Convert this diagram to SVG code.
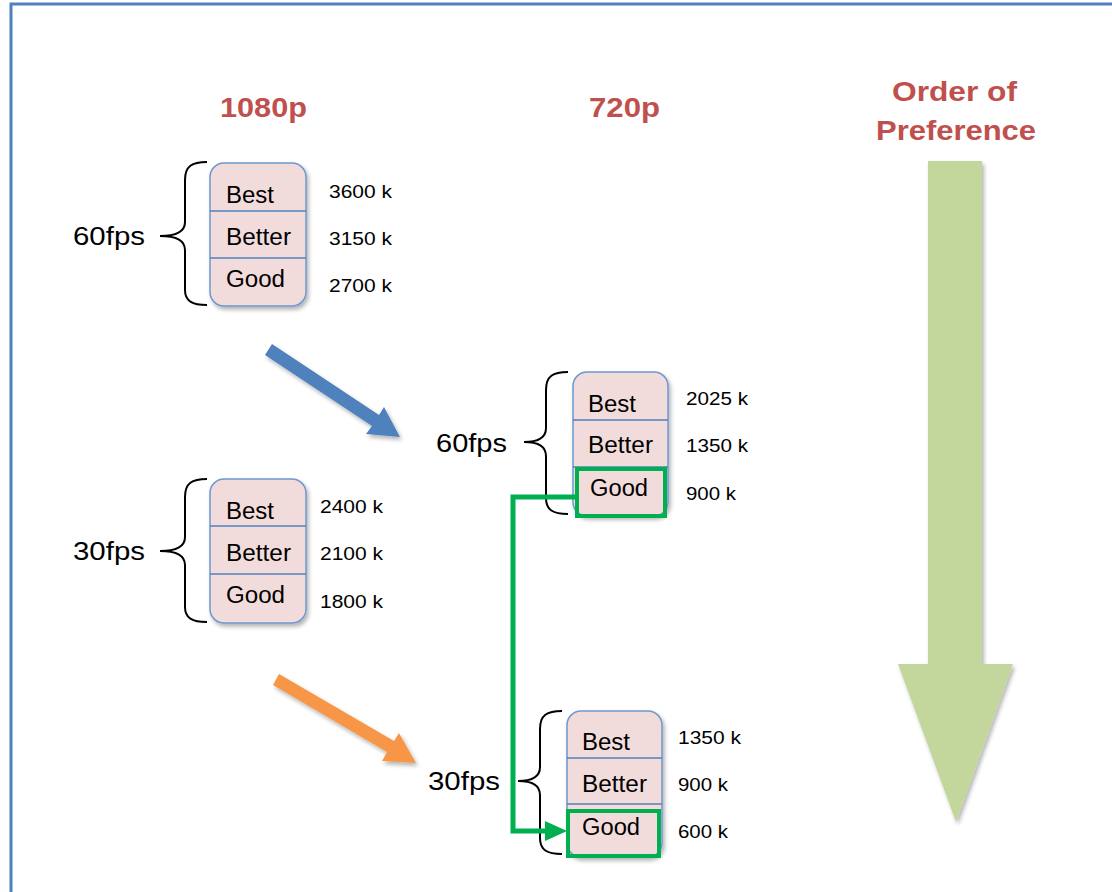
<svg xmlns="http://www.w3.org/2000/svg" width="1112" height="892" viewBox="0 0 1112 892">
<style>
text{font-family:"Liberation Sans",Arial,sans-serif;fill:#000}
.title{font-weight:bold;font-size:28px;fill:#c0504d}
.lbl{font-size:23px}
.num{font-size:19px}
.fps{font-size:25px}
.box{fill:#f2dcdb;stroke:#6f97cf;stroke-width:1.5}
.div{stroke:#4f81bd;stroke-width:1.5}
.brace{fill:none;stroke:#000;stroke-width:2}
.sel{fill:none;stroke:#00b050;stroke-width:4}
</style>
<defs>
<filter id="sh" x="-20%" y="-20%" width="140%" height="140%">
<feGaussianBlur in="SourceAlpha" stdDeviation="2"/>
<feOffset dx="2" dy="3"/>
<feComponentTransfer><feFuncA type="linear" slope="0.3"/></feComponentTransfer>
<feMerge><feMergeNode/><feMergeNode in="SourceGraphic"/></feMerge>
</filter>
</defs>
<rect x="0" y="0" width="1112" height="892" fill="#fff"/>
<rect x="11" y="4" width="1110" height="900" fill="none" stroke="#4f81bd" stroke-width="3"/>

<g id="titles">
<text class="title" x="220" y="117" textLength="87" lengthAdjust="spacingAndGlyphs">1080p</text>
<text class="title" x="589" y="117" textLength="71" lengthAdjust="spacingAndGlyphs">720p</text>
<text class="title" x="892" y="101" textLength="125" lengthAdjust="spacingAndGlyphs">Order of</text>
<text class="title" x="876" y="140" textLength="160" lengthAdjust="spacingAndGlyphs">Preference</text>
</g>

<g id="pref-arrow" filter="url(#sh)">
<path d="M928,161 L982,161 L982,664 L1013,664 L956,822 L898,664 L928,664 Z" fill="#c3d69b"/>
</g>

<g id="n1080-60">
<text class="fps" x="73" y="245" textLength="72" lengthAdjust="spacingAndGlyphs">60fps</text>
<path class="brace" d="M207,162 C192,162 185,166 185,180 L185,222 C185,232 176,236 160,236 C176,236 185,240 185,250 L185,290 C185,301 192,305 207,305"/>
<rect class="box" x="210" y="163" width="96" height="143" rx="14" filter="url(#sh)"/>
<line class="div" x1="210" y1="211" x2="306" y2="211"/>
<line class="div" x1="210" y1="258" x2="306" y2="258"/>
<text class="lbl" x="226" y="203" textLength="48" lengthAdjust="spacingAndGlyphs">Best</text>
<text class="lbl" x="226" y="245" textLength="65" lengthAdjust="spacingAndGlyphs">Better</text>
<text class="lbl" x="226" y="287" textLength="59" lengthAdjust="spacingAndGlyphs">Good</text>
<text class="num" x="329" y="198" textLength="63" lengthAdjust="spacingAndGlyphs">3600 k</text>
<text class="num" x="329" y="245" textLength="63" lengthAdjust="spacingAndGlyphs">3150 k</text>
<text class="num" x="329" y="292" textLength="63" lengthAdjust="spacingAndGlyphs">2700 k</text>
</g>

<g id="n1080-30">
<text class="fps" x="73" y="560" textLength="72" lengthAdjust="spacingAndGlyphs">30fps</text>
<path class="brace" d="M207,479 C192,479 185,483 185,497 L185,537 C185,547 176,551 160,551 C176,551 185,555 185,565 L185,607 C185,618 192,622 207,622"/>
<rect class="box" x="210" y="479" width="96" height="144" rx="14" filter="url(#sh)"/>
<line class="div" x1="210" y1="526" x2="306" y2="526"/>
<line class="div" x1="210" y1="574" x2="306" y2="574"/>
<text class="lbl" x="226" y="519" textLength="48" lengthAdjust="spacingAndGlyphs">Best</text>
<text class="lbl" x="226" y="561" textLength="65" lengthAdjust="spacingAndGlyphs">Better</text>
<text class="lbl" x="226" y="603" textLength="59" lengthAdjust="spacingAndGlyphs">Good</text>
<text class="num" x="320" y="513" textLength="63" lengthAdjust="spacingAndGlyphs">2400 k</text>
<text class="num" x="320" y="560" textLength="63" lengthAdjust="spacingAndGlyphs">2100 k</text>
<text class="num" x="320" y="608" textLength="63" lengthAdjust="spacingAndGlyphs">1800 k</text>
</g>

<g id="n720-60">
<text class="fps" x="436" y="452" textLength="71" lengthAdjust="spacingAndGlyphs">60fps</text>
<path class="brace" d="M568,372 C553,372 546,376 546,390 L546,428 C546,438 538,442 524,442 C538,442 546,446 546,456 L546,498 C546,510 553,514 568,514"/>
<rect class="box" x="573" y="372" width="95" height="144" rx="14" filter="url(#sh)"/>
<line class="div" x1="573" y1="420" x2="668" y2="420"/>
<line class="div" x1="573" y1="467" x2="668" y2="467"/>
<text class="lbl" x="588" y="412" textLength="48" lengthAdjust="spacingAndGlyphs">Best</text>
<text class="lbl" x="588" y="453" textLength="65" lengthAdjust="spacingAndGlyphs">Better</text>
<text class="lbl" x="590" y="496" textLength="58" lengthAdjust="spacingAndGlyphs">Good</text>
<text class="num" x="686" y="405" textLength="62" lengthAdjust="spacingAndGlyphs">2025 k</text>
<text class="num" x="686" y="452" textLength="62" lengthAdjust="spacingAndGlyphs">1350 k</text>
<text class="num" x="686" y="500" textLength="50" lengthAdjust="spacingAndGlyphs">900 k</text>
<rect class="sel" x="577" y="469" width="88" height="47"/>
</g>

<g id="n720-30">
<text class="fps" x="428" y="790" textLength="72" lengthAdjust="spacingAndGlyphs">30fps</text>
<path class="brace" d="M562,711 C547,711 540,715 540,729 L540,767 C540,777 532,781 518,781 C532,781 540,785 540,795 L540,838 C540,850 547,854 562,854"/>
<rect class="box" x="567" y="711" width="95" height="146" rx="14" filter="url(#sh)"/>
<line class="div" x1="567" y1="758" x2="662" y2="758"/>
<line class="div" x1="567" y1="804" x2="662" y2="804"/>
<text class="lbl" x="582" y="750" textLength="48" lengthAdjust="spacingAndGlyphs">Best</text>
<text class="lbl" x="582" y="792" textLength="65" lengthAdjust="spacingAndGlyphs">Better</text>
<text class="lbl" x="582" y="835" textLength="58" lengthAdjust="spacingAndGlyphs">Good</text>
<text class="num" x="678" y="744" textLength="63" lengthAdjust="spacingAndGlyphs">1350 k</text>
<text class="num" x="678" y="791" textLength="50" lengthAdjust="spacingAndGlyphs">900 k</text>
<text class="num" x="678" y="838" textLength="50" lengthAdjust="spacingAndGlyphs">600 k</text>
<rect class="sel" x="568" y="811" width="91" height="45"/>
</g>

<g id="connectors">
<g filter="url(#sh)">
<path d="M272,344 L379,415 L384,407 L400,437 L366,434 L372,426 L265,355 Z" fill="#4f81bd"/>
<path d="M279,674 L394,741 L399,733 L416,763 L382,761 L387,752 L273,685 Z" fill="#f79646"/>
</g>
<polyline points="577,497 513,497 513,831 548,831" fill="none" stroke="#00b050" stroke-width="5"/>
<path d="M545,821 L567,831 L545,841 Z" fill="#00b050"/>
</g>
</svg>
